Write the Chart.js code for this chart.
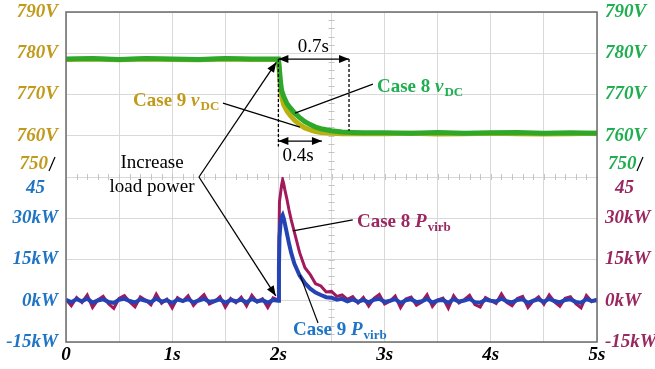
<!DOCTYPE html>
<html>
<head>
<meta charset="utf-8">
<script src="https://cdn.jsdelivr.net/npm/chart.js@4.4.1/dist/chart.umd.min.js"></script>
<style>
  html, body { margin: 0; padding: 0; background: #fff; }
  #wrap { width: 655px; height: 369px; }
</style>
</head>
<body>
<div id="wrap"><canvas id="scopeChart" width="655" height="369"></canvas></div>
<script>
// Time axis of the DC voltage traces (s).
var tV = [0, 0.25, 0.5, 0.75, 1.0, 1.25, 1.5, 1.75, 2.0,
  2.01, 2.02, 2.03, 2.05, 2.08, 2.11, 2.15, 2.2, 2.25, 2.3, 2.35, 2.4, 2.5, 2.6, 2.7, 2.8,
  3.0, 3.25, 3.5, 3.75, 4.0, 4.25, 4.5, 4.75, 5.0];

// Case 8 vDC (V), green trace.
var vdcCase8 = [778.6, 778.7, 778.5, 778.7, 778.6, 778.5, 778.7, 778.6, 778.6,
  776.0, 773.0, 771.0, 769.5, 767.8, 766.8, 765.6, 764.4, 763.4, 762.7, 762.1, 761.7, 761.2, 760.9, 760.8, 760.7,
  760.7, 760.6, 760.8, 760.6, 760.7, 760.8, 760.6, 760.7, 760.6];

// Case 9 vDC (V), yellow trace.
var vdcCase9 = [778.5, 778.6, 778.4, 778.6, 778.5, 778.4, 778.6, 778.5, 778.5,
  775.0, 771.5, 769.5, 767.5, 766.0, 765.0, 763.8, 762.7, 761.9, 761.4, 761.0, 760.8, 760.6, 760.5, 760.5, 760.5,
  760.5, 760.6, 760.4, 760.5, 760.6, 760.5, 760.4, 760.5, 760.6];

// Time axis of the virtual inertia power traces (s).
var tP = [0, 0.05, 0.1, 0.15, 0.2, 0.25, 0.3, 0.35, 0.4, 0.45, 0.5, 0.55, 0.6, 0.65, 0.7, 0.75, 0.8, 0.85, 0.9, 0.95,
  1.0, 1.05, 1.1, 1.15, 1.2, 1.25, 1.3, 1.35, 1.4, 1.45, 1.5, 1.55, 1.6, 1.65, 1.7, 1.75, 1.8, 1.85, 1.9, 1.95, 2.0,
  2.005, 2.01, 2.02, 2.03, 2.04, 2.05, 2.06, 2.08, 2.1, 2.12, 2.15,
  2.2, 2.25, 2.3, 2.35, 2.4, 2.45, 2.5, 2.55, 2.6, 2.65, 2.7, 2.75, 2.8,
  2.85, 2.9, 2.95, 3.0, 3.05, 3.1, 3.15, 3.2, 3.25, 3.3, 3.35, 3.4, 3.45, 3.5, 3.55, 3.6, 3.65, 3.7, 3.75, 3.8, 3.85,
  3.9, 3.95, 4.0, 4.05, 4.1, 4.15, 4.2, 4.25, 4.3, 4.35, 4.4, 4.45, 4.5, 4.55, 4.6, 4.65, 4.7, 4.75, 4.8, 4.85, 4.9, 4.95, 5.0];

// Case 8 Pvirb (kW), maroon trace.
var pvirbCase8 = [0.5, -1.8, 1.2, -0.6, 2.1, -2.4, 0.3, 1.6, -1.1, -2.8, 0.9, 1.9, -0.4, -2.2, 1.4, 0.2, -1.5, 2.4, -0.9, 0.6,
  -2.6, 1.1, -0.2, 1.8, -1.7, 0.4, 2.2, -1.2, -0.3, 1.5, -2.3, 0.8, -0.7, 1.3, -1.9, 2.0, -0.5, 0.7, -2.5, 1.0, 0.2,
  20, 36, 39, 42, 44, 42.5, 40.5, 37, 33, 29.5, 25,
  17.5, 12, 9.5, 6.2, 5.4, 3.2, 3.4, 1.6, 2.1, 0.5, 1.5, -0.8, 1.2,
  -1.9, 0.9, 2.3, -1.2, -0.2, 1.7, -2.5, 0.6, 1.3, -1.6, -0.5, 2.2, -2.1, 0.3, 1.0, -2.7, 1.8, -0.8, 0.4, 2.0, -1.4,
  -2.3, 1.2, 0.1, -1.0, 2.5, -0.6, -1.8, 0.8, 1.6, -2.4, 0.0, 1.4, -1.3, 2.1, -0.4, -2.0, 0.9, 1.5, -1.1, -2.6, 1.9, -0.3, 0.6];

// Case 9 Pvirb (kW), blue trace.
var pvirbCase9 = [0.3, -0.5, 0.6, -0.2, 0.8, -0.7, 0.1, 0.5, -0.4, -0.8, 0.4, 0.7, -0.1, -0.6, 0.5, 0.0, -0.5, 0.8, -0.3, 0.2,
  -0.8, 0.4, -0.1, 0.6, -0.6, 0.1, 0.7, -0.4, -0.1, 0.5, -0.7, 0.3, -0.2, 0.4, -0.6, 0.7, -0.2, 0.2, -0.7, 0.3, 0.0,
  12, 23, 28, 30.5, 31.2, 30, 28.2, 24.5, 20.8, 17.5, 13.5,
  9.2, 6.4, 4.4, 3.0, 2.1, 1.3, 1.1, 0.4, 0.7, -0.2, 0.5, -0.4, 0.3,
  -0.6, 0.4, 0.7, -0.4, 0.0, 0.6, -0.8, 0.2, 0.5, -0.5, -0.2, 0.7, -0.7, 0.1, 0.3, -0.8, 0.6, -0.3, 0.1, 0.7, -0.5,
  -0.7, 0.4, 0.0, -0.3, 0.8, -0.2, -0.6, 0.3, 0.5, -0.8, 0.0, 0.5, -0.4, 0.7, -0.1, -0.6, 0.3, 0.5, -0.4, -0.8, 0.6, -0.1, 0.2];

// Tick values.
var timeTicks = [0, 1, 2, 3, 4, 5];
var voltTicks = [790, 780, 770, 760, 750];
var powerTicks = [45, 30, 15, 0, -15];

var GOLD = "#c19a1c";
var GREEN = "#1fae50";
var BLUE = "#1f74c4";
var MAROON = "#9b2760";
var SERIF = "'Liberation Serif', 'Times New Roman', serif";

// Pairs two arrays into {x, y} points.
function toPoints(xs, ys) {
  var pts = [];
  for (var i = 0; i < xs.length; i++) {
    pts.push({ x: xs[i], y: ys[i] });
  }
  return pts;
}

var tickFont = { family: SERIF, size: 19, weight: "bold", style: "italic" };
var gridStyle = { color: "#d9d9d9", lineWidth: 1, drawTicks: false };

// Fixed axis widths, and no extra room for overhanging labels.
function fitY(position) {
  return function (axis) {
    axis.width = position === "left" ? 66 : 58;
    axis.paddingTop = 0;
    axis.paddingBottom = 0;
  };
}

function voltAxis(position, color, showGrid) {
  return {
    type: "linear", position: position, stack: position, stackWeight: 1,
    min: 750, max: 790,
    afterBuildTicks: function (axis) { axis.ticks = voltTicks.map(function (v) { return { value: v }; }); },
    grid: showGrid ? gridStyle : { display: false, drawTicks: false },
    border: { display: false },
    ticks: {
      color: color, font: tickFont, padding: 8, autoSkip: false,
      callback: function (v) { return v === 750 ? "" : v + "V"; }
    },
    afterFit: fitY(position)
  };
}

function powerAxis(position, color, showGrid) {
  return {
    type: "linear", position: position, stack: position, stackWeight: 1,
    min: -15, max: 45,
    afterBuildTicks: function (axis) { axis.ticks = powerTicks.map(function (v) { return { value: v }; }); },
    grid: showGrid ? gridStyle : { display: false, drawTicks: false },
    border: { display: false },
    ticks: {
      color: color, font: tickFont, padding: 8, autoSkip: false,
      callback: function (v) { return v === 45 ? "" : v + "kW"; }
    },
    afterFit: fitY(position)
  };
}

// Draws a filled arrowhead at (x2, y2) pointing away from (x1, y1).
function arrowHead(ctx, x1, y1, x2, y2) {
  var a = Math.atan2(y2 - y1, x2 - x1);
  ctx.beginPath();
  ctx.moveTo(x2, y2);
  ctx.lineTo(x2 - 10 * Math.cos(a) + 4 * Math.sin(a), y2 - 10 * Math.sin(a) - 4 * Math.cos(a));
  ctx.lineTo(x2 - 10 * Math.cos(a) - 4 * Math.sin(a), y2 - 10 * Math.sin(a) + 4 * Math.cos(a));
  ctx.closePath();
  ctx.fill();
}

function line(ctx, x1, y1, x2, y2) {
  ctx.beginPath();
  ctx.moveTo(x1, y1);
  ctx.lineTo(x2, y2);
  ctx.stroke();
}

// "Case 8 " + italic symbol + subscript.
function caseLabel(ctx, x, y, color, main, sym, sub) {
  ctx.fillStyle = color;
  ctx.textAlign = "left";
  ctx.textBaseline = "alphabetic";
  ctx.font = "bold 19px " + SERIF;
  ctx.fillText(main, x, y);
  x += ctx.measureText(main).width;
  ctx.font = "italic bold 19px " + SERIF;
  ctx.fillText(sym, x, y);
  x += ctx.measureText(sym).width + 1;
  ctx.font = "bold 13px " + SERIF;
  ctx.fillText(sub, x, y + 4);
}

// Scope-style minor ticks on the centre lines, drawn under the traces.
var scopeGrid = {
  id: "scopeGrid",
  beforeDatasetsDraw: function (chart) {
    var ctx = chart.ctx;
    var sx = chart.scales.x, sv = chart.scales.yV, sp = chart.scales.yP;
    var mid = sv.getPixelForValue(750);
    var cx = sx.getPixelForValue(2.5);
    ctx.save();
    ctx.strokeStyle = "#c4c4c4";
    ctx.lineWidth = 1;
    for (var t = 0.1; t < 5; t += 0.1) {
      var x = Math.round(sx.getPixelForValue(t)) + 0.5;
      line(ctx, x, mid - 3, x, mid + 3);
    }
    for (var v = 752; v < 790; v += 2) {
      var y = Math.round(sv.getPixelForValue(v)) + 0.5;
      line(ctx, cx - 3, y, cx + 3, y);
    }
    for (var p = -12; p < 45; p += 3) {
      var y2 = Math.round(sp.getPixelForValue(p)) + 0.5;
      line(ctx, cx - 3, y2, cx + 3, y2);
    }
    ctx.restore();
  }
};

var scopePlugin = {
  id: "scope",
  afterDraw: function (chart) {
    var ctx = chart.ctx;
    var a = chart.chartArea;
    var sx = chart.scales.x, sv = chart.scales.yV, sp = chart.scales.yP;
    var X = function (t) { return sx.getPixelForValue(t); };
    var V = function (v) { return sv.getPixelForValue(v); };
    var P = function (p) { return sp.getPixelForValue(p); };

    ctx.save();
    // frame
    ctx.strokeStyle = "#6b6b6b";
    ctx.lineWidth = 1.5;
    ctx.strokeRect(a.left, a.top, a.right - a.left, a.bottom - a.top);

    // split labels at the panel boundary
    var mid = V(750);
    ctx.font = "italic bold 19px " + SERIF;
    ctx.textBaseline = "middle";
    ctx.textAlign = "right";
    ctx.fillStyle = GOLD;
    ctx.fillText("750", a.left - 18, mid - 13);
    ctx.fillStyle = BLUE;
    ctx.fillText("45", a.left - 21, mid + 11);
    ctx.textAlign = "left";
    ctx.fillStyle = GREEN;
    ctx.fillText("750", a.right + 11, mid - 13);
    ctx.fillStyle = MAROON;
    ctx.fillText("45", a.right + 18, mid + 11);
    ctx.strokeStyle = "#000";
    ctx.lineWidth = 1.2;
    line(ctx, a.left - 11, mid - 20, a.left - 17, mid - 6);
    line(ctx, a.right + 46, mid - 20, a.right + 40, mid - 6);

    // time markers
    ctx.strokeStyle = "#000";
    ctx.fillStyle = "#000";
    ctx.lineWidth = 1.3;
    ctx.setLineDash([3, 2]);
    line(ctx, X(2.665), V(778.6), X(2.665), V(761.2));
    line(ctx, X(2.0), V(778.6), X(2.0), V(757.4));
    ctx.setLineDash([]);
    line(ctx, X(2.0), V(778.6), X(2.665), V(778.6));
    arrowHead(ctx, X(2.665), V(778.6), X(2.0), V(778.6));
    arrowHead(ctx, X(2.0), V(778.6), X(2.665), V(778.6));
    line(ctx, X(2.0), V(758.7), X(2.41), V(758.7));
    arrowHead(ctx, X(2.41), V(758.7), X(2.0), V(758.7));
    arrowHead(ctx, X(2.0), V(758.7), X(2.41), V(758.7));

    ctx.font = "19px " + SERIF;
    ctx.textAlign = "center";
    ctx.textBaseline = "middle";
    ctx.fillText("0.7s", X(2.33), V(781.6));
    ctx.fillText("0.4s", X(2.185), V(755.1));

    // "Increase load power" callout
    ctx.fillText("Increase", X(0.81), V(753.4));
    ctx.fillText("load power", X(0.81), P(41.4));
    line(ctx, X(1.252), V(750), X(1.98), V(777.8));
    arrowHead(ctx, X(1.252), V(750), X(1.98), V(777.8));
    line(ctx, X(1.252), V(750), X(1.975), P(1.8));
    arrowHead(ctx, X(1.252), V(750), X(1.975), P(1.8));

    // case leader lines
    ctx.lineWidth = 1.2;
    line(ctx, X(2.89), V(772.5), X(2.156), V(765.5));
    line(ctx, X(1.478), V(767.9), X(2.203), V(762.1));
    line(ctx, X(2.70), P(29.4), X(2.137), P(25.4));
    line(ctx, X(2.373), P(-8.1), X(2.203), P(9.4));

    caseLabel(ctx, X(2.928), V(770.6), GREEN, "Case 8 ", "v", "DC");
    caseLabel(ctx, X(0.631), V(767.2), GOLD, "Case 9 ", "v", "DC");
    caseLabel(ctx, X(2.74), P(26.8), MAROON, "Case 8 ", "P", "virb");
    caseLabel(ctx, X(2.137), P(-12.5), BLUE, "Case 9 ", "P", "virb");
    ctx.restore();
  }
};

var config = {
  type: "line",
  data: {
    datasets: [
      { label: "Case 8 vDC", data: toPoints(tV, vdcCase8), yAxisID: "yV", borderColor: "#2ea82a", borderWidth: 5, order: 1 },
      { label: "Case 9 vDC", data: toPoints(tV, vdcCase9), yAxisID: "yV", borderColor: "#b9b10e", borderWidth: 5, order: 2 },
      { label: "Case 9 Pvirb", data: toPoints(tP, pvirbCase9), yAxisID: "yP", borderColor: "#2443b4", borderWidth: 4, order: 3 },
      { label: "Case 8 Pvirb", data: toPoints(tP, pvirbCase8), yAxisID: "yP", borderColor: "#a2195c", borderWidth: 3, order: 4 }
    ]
  },
  options: {
    responsive: false,
    animation: false,
    events: [],
    layout: { padding: { top: 12, left: 0, right: 0, bottom: 0 } },
    elements: { point: { radius: 0 }, line: { tension: 0 } },
    plugins: { legend: { display: false }, tooltip: { enabled: false } },
    scales: {
      x: {
        type: "linear", min: 0, max: 5,
        afterBuildTicks: function (axis) {
          var list = [];
          for (var i = 0; i < timeTicks.length; i++) {
            list.push({ value: timeTicks[i] });
            if (i < timeTicks.length - 1) list.push({ value: timeTicks[i] + 0.5 });
          }
          axis.ticks = list;
        },
        grid: gridStyle,
        border: { display: false },
        ticks: {
          color: "#000", font: tickFont, padding: 2, maxRotation: 0, autoSkip: false,
          callback: function (v) { return timeTicks.indexOf(v) < 0 ? "" : (v === 0 ? "0" : v + "s"); }
        },
        afterFit: function (axis) { axis.height = 27; axis.paddingLeft = 0; axis.paddingRight = 0; }
      },
      // left stack: later key is placed on top
      yP: powerAxis("left", BLUE, true),
      yV: voltAxis("left", GOLD, true),
      yV2: voltAxis("right", GREEN, false),
      yP2: powerAxis("right", MAROON, false)
    }
  },
  plugins: [scopeGrid, scopePlugin]
};

var myChart = new Chart(document.getElementById("scopeChart"), config);
</script>
</body>
</html>
